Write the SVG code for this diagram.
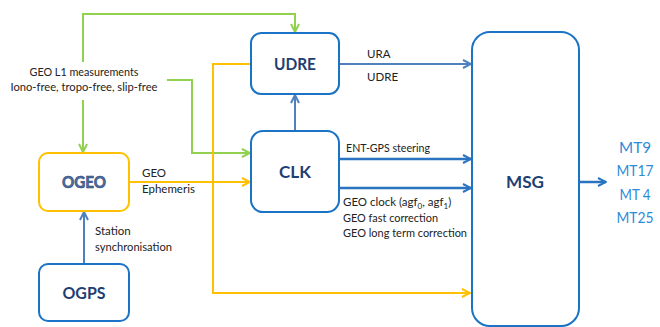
<svg xmlns="http://www.w3.org/2000/svg" width="660" height="327" viewBox="0 0 660 327">
<defs>
<marker id="ag" viewBox="0 0 10 10" refX="9" refY="5" markerWidth="10" markerHeight="10" orient="auto" markerUnits="userSpaceOnUse">
<path d="M1,1 L9,5 L1,9" fill="none" stroke="#92D050" stroke-width="2"/>
</marker>
<marker id="ay" viewBox="0 0 10 10" refX="9" refY="5" markerWidth="10" markerHeight="10" orient="auto" markerUnits="userSpaceOnUse">
<path d="M1,1 L9,5 L1,9" fill="none" stroke="#FFC000" stroke-width="2"/>
</marker>
<marker id="ab" viewBox="0 0 10 10" refX="9" refY="5" markerWidth="10" markerHeight="10" orient="auto" markerUnits="userSpaceOnUse">
<path d="M1,1 L9,5 L1,9" fill="none" stroke="#4F81BD" stroke-width="2"/>
</marker>
<marker id="ad" viewBox="0 0 10 10" refX="9" refY="5" markerWidth="10" markerHeight="10" orient="auto" markerUnits="userSpaceOnUse">
<path d="M1,1 L9,5 L1,9" fill="none" stroke="#2A73C0" stroke-width="2"/>
</marker>
</defs>
<style>
.box{fill:#fff;stroke:#1A73C4;stroke-width:2}
.ybox{fill:#fff;stroke:#FFC000;stroke-width:2}
.title{font-family:"Lato","Liberation Sans",sans-serif;font-weight:bold;font-size:17px;fill:#1F3F73;text-anchor:middle}
.lbl{font-family:"Lato","Liberation Sans",sans-serif;font-size:11.5px;fill:#222}
.g{fill:none;stroke:#92D050;stroke-width:2}
.y{fill:none;stroke:#FFC000;stroke-width:2}
.b{fill:none;stroke:#4F81BD;stroke-width:2}
.d{fill:none;stroke:#2A73C0;stroke-width:2.5}
.mt{font-family:"Lato","Liberation Sans",sans-serif;font-size:16px;fill:#2E8BD8;text-anchor:middle}
</style>
<rect width="660" height="327" fill="#fff"/>
<g id="connectors">
<polyline class="g" points="83,62 83,14 295,14 295,32" marker-end="url(#ag)"/>
<polyline class="g" points="83,100 83,152" marker-end="url(#ag)"/>
<polyline class="g" points="167,80 192,80 192,153 250,153" marker-end="url(#ag)"/>
<polyline class="y" points="129,182 250,182" marker-end="url(#ay)"/>
<polyline class="y" points="250,64 213,64 213,293 470,293" marker-end="url(#ay)"/>
<line class="b" x1="84" y1="264" x2="84" y2="212" marker-end="url(#ab)"/>
<line class="b" x1="295" y1="131" x2="295" y2="95" marker-end="url(#ab)"/>
<line class="b" x1="339" y1="64" x2="471" y2="64" marker-end="url(#ab)"/>
<line class="d" x1="339" y1="159" x2="471" y2="159" marker-end="url(#ad)"/>
<line class="d" x1="339" y1="188" x2="471" y2="188" marker-end="url(#ad)"/>
<line class="d" x1="579" y1="182" x2="606" y2="182" marker-end="url(#ad)"/>
<text class="lbl" x="84" y="76" text-anchor="middle" textLength="109" lengthAdjust="spacingAndGlyphs">GEO L1 measurements</text>
<text class="lbl" x="84" y="91" text-anchor="middle" textLength="147" lengthAdjust="spacingAndGlyphs">Iono-free, tropo-free, slip-free</text>
<text class="lbl" x="142" y="177">GEO</text>
<text class="lbl" x="142" y="193">Ephemeris</text>
<text class="lbl" x="95" y="235">Station</text>
<text class="lbl" x="95" y="251" textLength="77" lengthAdjust="spacingAndGlyphs">synchronisation</text>
<text class="lbl" x="367" y="58">URA</text>
<text class="lbl" x="367" y="81">UDRE</text>
<text class="lbl" x="346" y="152" textLength="84" lengthAdjust="spacingAndGlyphs">ENT-GPS steering</text>
<text class="lbl" x="343" y="206">GEO clock (agf<tspan font-size="8" dy="3">0</tspan><tspan dy="-3">, agf</tspan><tspan font-size="8" dy="3">1</tspan><tspan dy="-3">)</tspan></text>
<text class="lbl" x="343" y="222" textLength="95" lengthAdjust="spacingAndGlyphs">GEO fast correction</text>
<text class="lbl" x="343" y="237" textLength="124" lengthAdjust="spacingAndGlyphs">GEO long term correction</text>
</g>
<g id="UDRE"><rect class="box" x="251" y="33" width="88" height="61" rx="10"/><text class="title" x="295" y="70" textLength="42" lengthAdjust="spacingAndGlyphs">UDRE</text></g>
<g id="CLK"><rect class="box" x="251" y="131" width="88" height="81" rx="12"/><text class="title" x="295" y="178" textLength="32" lengthAdjust="spacingAndGlyphs">CLK</text></g>
<g id="OGEO"><rect class="ybox" x="39" y="153" width="90" height="58" rx="9"/><text class="title" x="84" y="188" textLength="44" lengthAdjust="spacingAndGlyphs" style="fill:#4F6FA0;stroke:#1F3F73;stroke-width:0.6">OGEO</text></g>
<g id="OGPS"><rect class="box" x="39" y="264" width="90" height="57" rx="9"/><text class="title" x="84" y="299" textLength="43" lengthAdjust="spacingAndGlyphs">OGPS</text></g>
<g id="MSG"><rect class="box" x="472" y="32" width="107" height="294" rx="18"/><text class="title" x="525" y="188" textLength="38" lengthAdjust="spacingAndGlyphs">MSG</text></g>
<g id="outputs">
<text class="mt" x="635" y="153" textLength="32" lengthAdjust="spacingAndGlyphs">MT9</text>
<text class="mt" x="635" y="176" textLength="37" lengthAdjust="spacingAndGlyphs">MT17</text>
<text class="mt" x="635" y="200" textLength="31" lengthAdjust="spacingAndGlyphs">MT 4</text>
<text class="mt" x="635" y="223" textLength="37" lengthAdjust="spacingAndGlyphs">MT25</text>
</g>
</svg>
